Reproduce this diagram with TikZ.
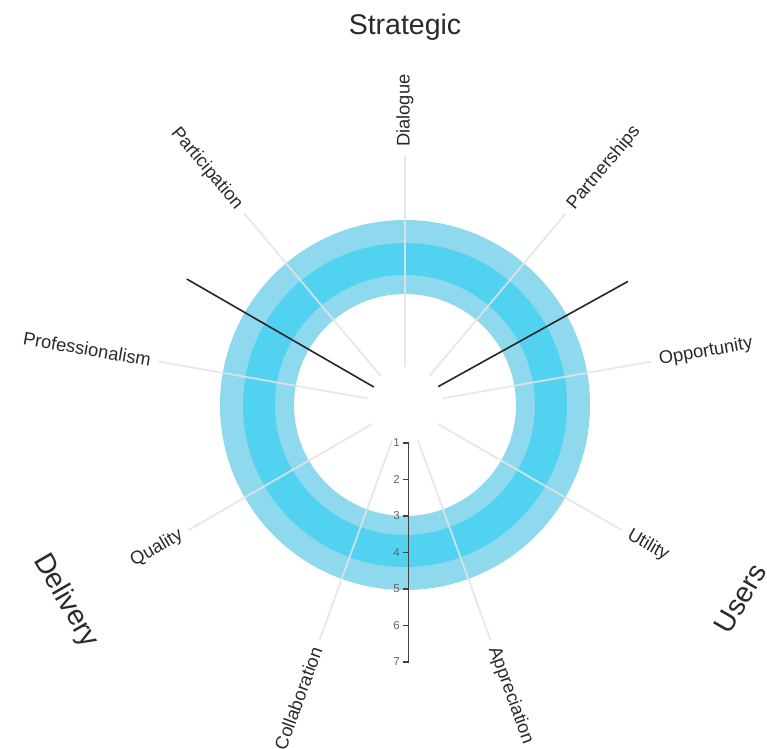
\documentclass[tikz,border=0pt]{standalone}
\usepackage{fontspec}
\setmainfont{Liberation Sans}
\definecolor{ringlight}{HTML}{8FD9EF}
\definecolor{ringdark}{HTML}{52D2F1}
\definecolor{spokegray}{HTML}{E4E4E4}
\definecolor{txt}{HTML}{2A2A2A}
\tikzset{
  spokeline/.style={draw=spokegray, line width=1.8pt, opacity=0.85},
  sepline/.style={draw=black!85, line width=1.6pt},
  catlabel/.style={text=txt, inner sep=0pt, font=\fontsize{18.3}{20}\selectfont},
  grouplabel/.style={text=txt, inner sep=0pt, font=\fontsize{28.5}{30}\selectfont},
  axisline/.style={draw=black!75, line width=1.6pt},
  ticklabel/.style={text=black!60, inner sep=0pt, font=\fontsize{11.5}{12}\selectfont}
}
\begin{document}
\begin{tikzpicture}[x=1pt,y=1pt]
\useasboundingbox (0,0) rectangle (767,748);
\fill[white] (0,0) rectangle (767,748);
\begin{scope}[shift={(405,343)}]
  \coordinate (C) at (0,0);
  % rings
  \fill[ringlight, even odd rule] (C) circle (185) (C) circle (111);
  \fill[ringdark, even odd rule] (C) circle (162) (C) circle (130);
  % spokes and labels
  \foreach \ang/\nm/\rot/\anc in {
      90/Dialogue/90/west,
      50/Partnerships/50/west,
      10/Opportunity/10/west,
      -30/Utility/-30/west,
      -70/Appreciation/-70/west,
      -110/Collaboration/70/east,
      -150/Quality/30/east,
      170/Professionalism/-10/east,
      130/Participation/-50/east} {
    \coordinate (s-\nm-in) at (\ang:38);
    \coordinate (s-\nm-out) at (\ang:250);
    \draw[spokeline] (s-\nm-in) -- (s-\nm-out);
    \node[catlabel, rotate=\rot, anchor=\anc] (l-\nm) at (\ang:258) {\nm};
  }
  % separators
  \coordinate (sepR-in) at (29:38);
  \coordinate (sepR-out) at (29:255);
  \coordinate (sepL-in) at (150:36);
  \coordinate (sepL-out) at (150:252);
  \draw[sepline] (sepR-in) -- (sepR-out);
  \draw[sepline] (sepL-in) -- (sepL-out);
  % scale axis
  \foreach \v in {1,...,7} {
    \coordinate (t\v) at (3.5,{-36.5*\v-1.5});
  }
  \draw[axisline] (t1) -- (t7);
  \foreach \v in {1,...,7} {
    \draw[axisline] (t\v) -- ++(-6,0) node[ticklabel, anchor=east, xshift=-2pt] (n\v) {\v};
  }
  % group labels
  \node[grouplabel] (g-strategic) at (90:378) {Strategic};
  \node[grouplabel, rotate=60] (g-users) at (-30:387) {Users};
  \node[grouplabel, rotate=-60] (g-delivery) at (-150:392) {Delivery};
\end{scope}
\end{tikzpicture}
\end{document}
